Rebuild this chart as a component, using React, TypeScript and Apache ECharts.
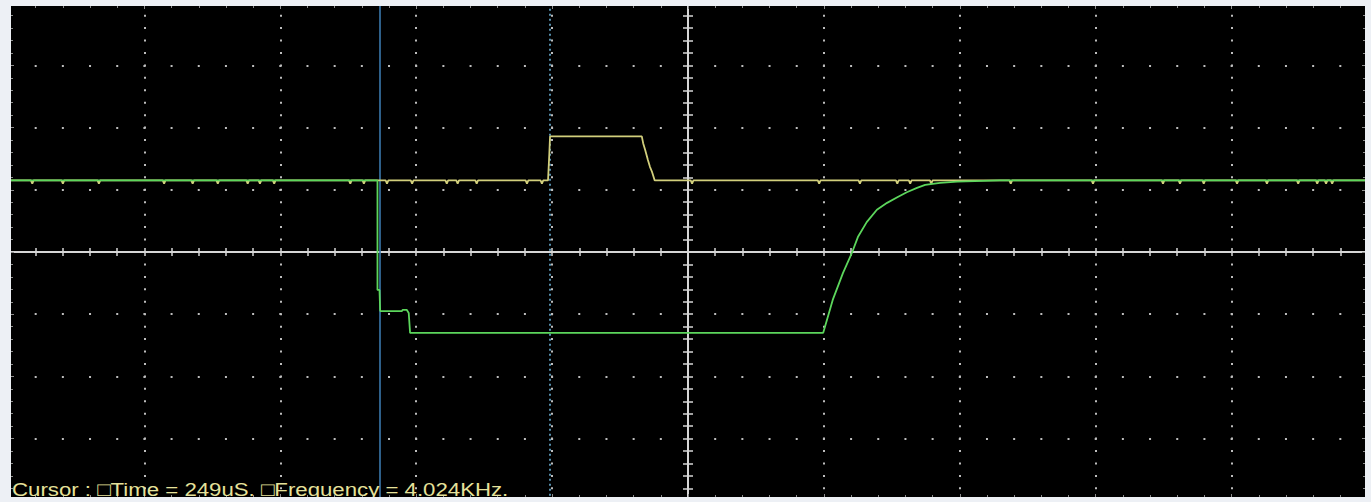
import React, { useEffect, useRef } from "react";
import * as echarts from "echarts";

// Time axis in microseconds (200 µs / division), amplitude in screen divisions
const timeMin = -1000;
const timeMax = 1000;
const timeStep = 200;
const voltMin = -4;
const voltMax = 4;
const voltStep = 1;

// CH1 (yellow) trace: [time µs, divisions]
const yellowTrace: [number, number][] = [
  [-1000, 1.15],
  [-967, 1.15], [-965, 1.1], [-963, 1.15],
  [-922, 1.15], [-920, 1.1], [-918, 1.15],
  [-869, 1.15], [-867, 1.1], [-865, 1.15],
  [-773, 1.15], [-771, 1.1], [-769, 1.15],
  [-731, 1.15], [-729, 1.1], [-727, 1.15],
  [-694, 1.15], [-692, 1.1], [-690, 1.15],
  [-650, 1.15], [-648, 1.1], [-646, 1.15],
  [-632, 1.15], [-630, 1.1], [-628, 1.15],
  [-611, 1.15], [-609, 1.1], [-607, 1.15],
  [-499, 1.15], [-497, 1.1], [-495, 1.15],
  [-479, 1.15], [-477, 1.1], [-475, 1.15],
  [-445, 1.15], [-443, 1.1], [-441, 1.15],
  [-408, 1.15], [-406, 1.1], [-404, 1.15],
  [-357, 1.15], [-355, 1.1], [-353, 1.15],
  [-341, 1.15], [-339, 1.1], [-337, 1.15],
  [-313, 1.15], [-311, 1.1], [-309, 1.15],
  [-239, 1.15], [-237, 1.1], [-235, 1.15],
  [-217, 1.15], [-215, 1.1], [-213, 1.15],
  [-206, 1.15], [-204, 1.6], [-203, 1.86],
  [-68, 1.86], [-66, 1.75], [-63, 1.64], [-59, 1.48], [-56, 1.37], [-53, 1.29], [-49, 1.15],
  [4, 1.15], [6, 1.1], [8, 1.15],
  [191, 1.15], [193, 1.1], [195, 1.15],
  [251, 1.15], [253, 1.1], [255, 1.15],
  [306, 1.15], [308, 1.1], [310, 1.15],
  [325, 1.15], [327, 1.1], [329, 1.15],
  [356, 1.15], [358, 1.1], [360, 1.15],
  [473, 1.15], [475, 1.1], [477, 1.15],
  [594, 1.15], [596, 1.1], [598, 1.15],
  [697, 1.15], [699, 1.1], [701, 1.15],
  [722, 1.15], [724, 1.1], [726, 1.15],
  [757, 1.15], [759, 1.1], [761, 1.15],
  [806, 1.15], [808, 1.1], [810, 1.15],
  [850, 1.15], [852, 1.1], [854, 1.15],
  [896, 1.15], [898, 1.1], [900, 1.15],
  [924, 1.15], [926, 1.1], [928, 1.15],
  [937, 1.15], [939, 1.1], [941, 1.15],
  [946, 1.15], [948, 1.1], [950, 1.15],
  [1000, 1.15],
];

// CH2 (green) trace: [time µs, divisions]
const greenTrace: [number, number][] = [
  [-1000, 1.15], [-457, 1.15], [-457, -0.61], [-454, -0.61], [-453, -0.95], [-421, -0.95],
  [-420, -0.93], [-414, -0.93], [-411, -0.98], [-409, -1.3], [199, -1.3],
  [213, -0.77], [228, -0.34], [241, -0.02], [250, 0.24], [263, 0.48],
  [278, 0.68], [293, 0.79], [308, 0.88], [322, 0.96], [337, 1.03],
  [349, 1.08], [371, 1.11], [396, 1.13], [422, 1.14], [459, 1.15], [1000, 1.15],
];

// Cursor positions (µs)
const cursorTimes = [-453, -204];
const cursorText = "Cursor : \u25A1Time = 249uS. \u25A1Frequency = 4.024KHz.";

const PAGE_BG = "#edf0f5";
const AXIS_COLOR = "#d6d6d6";
const DOT_COLOR = "#bdbdbd";
const EDGE_COLOR = "#8c8c8c";

function centerAxis(extra: any) {
  return {
    type: "value",
    axisLine: { show: true, onZero: true, onZeroAxisIndex: 0, lineStyle: { color: AXIS_COLOR, width: 2 } },
    axisTick: { show: true, length: 4, lineStyle: { color: AXIS_COLOR, width: 1.5 } },
    minorTick: { show: true, splitNumber: 5, length: 4, lineStyle: { color: AXIS_COLOR, width: 1.5 } },
    axisLabel: { show: false },
    splitLine: { show: false },
    ...extra,
  };
}

function edgeAxis(extra: any) {
  return {
    type: "value",
    axisLine: { show: false, onZero: false },
    axisTick: { show: true, inside: true, length: 3, lineStyle: { color: EDGE_COLOR, width: 1 } },
    minorTick: { show: true, splitNumber: 5, length: 2, lineStyle: { color: EDGE_COLOR, width: 1 } },
    axisLabel: { show: false },
    splitLine: { show: false },
    ...extra,
  };
}

export default function App() {
  const ref = useRef<HTMLDivElement>(null);
  useEffect(() => {
    if (!ref.current) return;
    const chart = echarts.init(ref.current, null, { renderer: "svg" });
    const xRange = { min: timeMin, max: timeMax, interval: timeStep };
    const yRange = { min: voltMin, max: voltMax, interval: voltStep };
    chart.setOption({
      animation: false,
      backgroundColor: PAGE_BG,
      grid: {
        left: 8.5,
        right: 3.5,
        top: 3.2,
        bottom: 1.2,
        show: true,
        backgroundColor: "#000000",
        borderWidth: 0,
        containLabel: false,
        outerBoundsMode: "none",
      },
      xAxis: [
        centerAxis({
          ...xRange,
          position: "bottom",
          axisTick: { show: true, inside: false, length: 4, lineStyle: { color: AXIS_COLOR, width: 1.5 } },
          splitLine: {
            show: true,
            showMinLine: false,
            showMaxLine: false,
            lineStyle: { color: DOT_COLOR, width: 2, type: [2, 10.44], dashOffset: 1 },
          },
        }),
        centerAxis({
          ...xRange,
          position: "bottom",
          axisTick: { show: true, inside: true, length: 4, lineStyle: { color: AXIS_COLOR, width: 1.5 } },
        }),
        edgeAxis({ ...xRange, position: "bottom", offset: -3.8 }),
        edgeAxis({ ...xRange, position: "top", offset: -2.8 }),
      ],
      yAxis: [
        centerAxis({
          ...yRange,
          position: "left",
          axisTick: { show: true, inside: false, length: 5, lineStyle: { color: AXIS_COLOR, width: 1.5 } },
          minorTick: { show: true, splitNumber: 5, length: 5, lineStyle: { color: AXIS_COLOR, width: 1.5 } },
          splitLine: {
            show: true,
            showMinLine: false,
            showMaxLine: false,
            lineStyle: { color: DOT_COLOR, width: 2, type: [2, 25.18], dashOffset: 1 },
          },
        }),
        centerAxis({
          ...yRange,
          position: "left",
          axisTick: { show: true, inside: true, length: 5, lineStyle: { color: AXIS_COLOR, width: 1.5 } },
          minorTick: { show: true, splitNumber: 5, length: 5, lineStyle: { color: AXIS_COLOR, width: 1.5 } },
        }),
        edgeAxis({ ...yRange, position: "left", offset: -2.5 }),
        edgeAxis({ ...yRange, position: "right", offset: -2.5 }),
      ],
      graphic: [
        {
          type: "text",
          z: 50,
          x: 12,
          y: 499,
          scaleX: 1.17,
          silent: true,
          style: {
            text: cursorText,
            fill: "#e6e29a",
            fontSize: 19,
            fontFamily: "Liberation Sans, Arial, sans-serif",
            verticalAlign: "bottom",
            align: "left",
          },
        },
        { type: "rect", z: 100, shape: { x: 0, y: 0, width: 11, height: 502 }, style: { fill: PAGE_BG } },
        { type: "rect", z: 100, shape: { x: 1365, y: 0, width: 6, height: 502 }, style: { fill: PAGE_BG } },
        { type: "rect", z: 100, shape: { x: 0, y: 0, width: 1371, height: 6 }, style: { fill: PAGE_BG } },
        { type: "rect", z: 100, shape: { x: 0, y: 497, width: 1371, height: 5 }, style: { fill: PAGE_BG } },
      ],
      series: [
        {
          name: "CH1",
          type: "line",
          xAxisIndex: 0,
          yAxisIndex: 0,
          data: yellowTrace,
          showSymbol: false,
          z: 2,
          lineStyle: { color: "#d2cf7c", width: 1.8 },
          markLine: {
            silent: true,
            z: 1,
            symbol: ["none", "none"],
            label: { show: false },
            data: [
              { xAxis: cursorTimes[0], lineStyle: { color: "#3a78ad", width: 1.6, type: "solid" } },
              { xAxis: cursorTimes[1], lineStyle: { color: "#6cb2d8", width: 1.6, type: [2, 3] } },
            ],
          },
        },
        {
          name: "CH2",
          type: "line",
          xAxisIndex: 0,
          yAxisIndex: 0,
          data: greenTrace,
          showSymbol: false,
          z: 3,
          lineStyle: { color: "#5cd65c", width: 1.8 },
        },
      ],
    });
    return () => chart.dispose();
  }, []);
  return (
    <div
      ref={ref}
      style={{ position: "fixed", left: 0, top: 0, width: 1371, height: 502 }}
    />
  );
}
